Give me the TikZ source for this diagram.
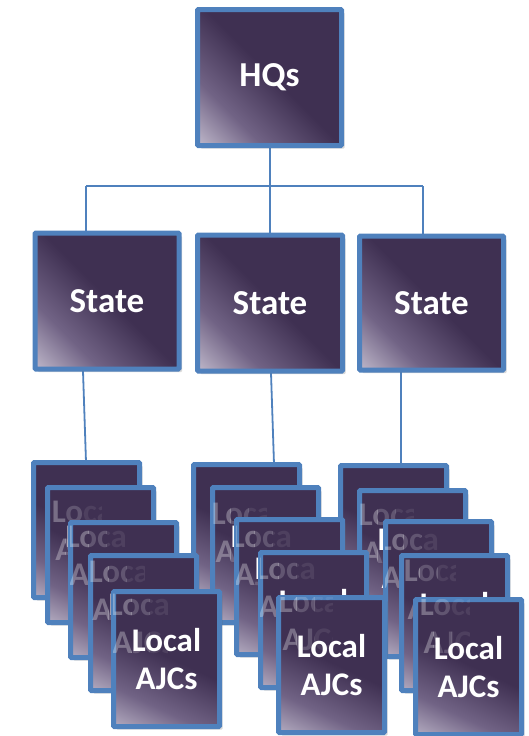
\documentclass[tikz,border=0pt]{standalone}
\usepackage{fontspec}
\setmainfont{Carlito}
\usetikzlibrary{shadows}
\definecolor{boxdark}{HTML}{3F3052}
\definecolor{boxmid}{HTML}{716385}
\definecolor{boxlight}{HTML}{D4CFDD}
\definecolor{edgeblue}{HTML}{4F81BD}
\pgfdeclareverticalshading{boxshade}{100bp}{color(0bp)=(boxlight); color(10bp)=(boxlight); color(31bp)=(boxmid); color(51bp)=(boxdark); color(100bp)=(boxdark)}
\pgfdeclarelayer{bg}
\pgfsetlayers{bg,main}
\tikzset{
  basebox/.style={rectangle, draw=edgeblue, line width=5pt, shade, shading=boxshade,
    text=white, inner sep=0pt, rounded corners=1pt,
    drop shadow={opacity=0.25, fill=black!60, shadow xshift=3pt, shadow yshift=-3pt}},
  bigbox/.style={basebox, shading angle=-45, minimum width=144pt, minimum height=136pt,
    font=\bfseries\fontsize{35}{38}\selectfont},
  localfont/.style={align=center, font=\bfseries\fontsize{33}{38}\selectfont},
  localbox/.style={basebox, shading angle=-25, minimum width=106pt, minimum height=135pt, localfont},
  ghosttext/.style={inner sep=0pt, text=white, localfont},
  conn/.style={draw=edgeblue, line width=1.8pt}
}
% faint text of an earlier box (#2) seen through the left part of a later one (#1)
\newcommand\ghostof[2]{%
  \foreach \gi/\gop in {0/0.30,1/0.18,2/0.08}{%
    \begin{scope}
      \clip ([xshift=2.5pt+\gi*18pt, yshift=-2.5pt]#1.north west) rectangle ([xshift=20.5pt+\gi*18pt, yshift=2.5pt]#1.south west);
      \node[ghosttext, text opacity=\gop] at (#2.center) {Local\\AJCs};
    \end{scope}}}
\begin{document}
\begin{tikzpicture}[x=1pt,y=-1pt]
\useasboundingbox (0,0) rectangle (529,736);
% top levels
\node[bigbox] (hq) at (269.5,77.5) {HQs};
\node[bigbox] (st1) at (107,301) {State};
\node[bigbox, minimum width=145pt] (st2) at (270,303) {State};
\node[bigbox, minimum width=144pt, minimum height=134pt] (st3) at (431.5,303) {State};
% stack 3 (furthest back)
\node[localbox] (s3a) at (393.5,533) {Local\\AJCs};
\node[localbox] (s3b) at (412.5,558) {Local\\AJCs};
\ghostof{s3b}{s3a}
\node[localbox] (s3c) at (438.5,589) {Local\\AJCs};
\ghostof{s3c}{s3b}
\node[localbox] (s3d) at (454.5,623) {Local\\AJCs};
\ghostof{s3d}{s3c}
\node[localbox] (s3e) at (468.5,667) {Local\\AJCs};
\ghostof{s3e}{s3d}
% stack 2
\node[localbox] (s2a) at (246.5,532) {Local\\AJCs};
\node[localbox] (s2b) at (265.5,555) {Local\\AJCs};
\ghostof{s2b}{s2a}
\node[localbox] (s2c) at (289.5,587) {Local\\AJCs};
\ghostof{s2c}{s2b}
\node[localbox] (s2d) at (313.5,620) {Local\\AJCs};
\ghostof{s2d}{s2c}
\node[localbox] (s2e) at (331.5,665) {Local\\AJCs};
\ghostof{s2e}{s2d}
% stack 1 (front)
\node[localbox] (s1a) at (86.5,530) {Local\\AJCs};
\node[localbox] (s1b) at (100.5,555) {Local\\AJCs};
\ghostof{s1b}{s1a}
\node[localbox] (s1c) at (123.5,590) {Local\\AJCs};
\ghostof{s1c}{s1b}
\node[localbox] (s1d) at (143.5,623) {Local\\AJCs};
\ghostof{s1d}{s1c}
\node[localbox] (s1e) at (166.5,659) {Local\\AJCs};
\ghostof{s1e}{s1d}
% connectors
\coordinate (j0) at (270,186);
\coordinate (j1) at (86,186);
\coordinate (j3) at (423,186);
\coordinate (t1) at (83,371);
\coordinate (b1) at (86,462);
\coordinate (t2) at (271,373);
\coordinate (b2) at (274,464);
\coordinate (t3) at (401,372);
\coordinate (b3) at (401,465);
\begin{pgfonlayer}{bg}
\draw[conn] (hq.south -| j0) -- (j0);
\draw[conn] (j1) -- (j3);
\draw[conn] (j1) -- (j1 |- st1.north);
\draw[conn] (j0) -- (j0 |- st2.north);
\draw[conn] (j3) -- (j3 |- st3.north);
\draw[conn] (t1) -- (b1);
\draw[conn] (t2) -- (b2);
\draw[conn] (t3) -- (b3);
\end{pgfonlayer}
\end{tikzpicture}
\end{document}
